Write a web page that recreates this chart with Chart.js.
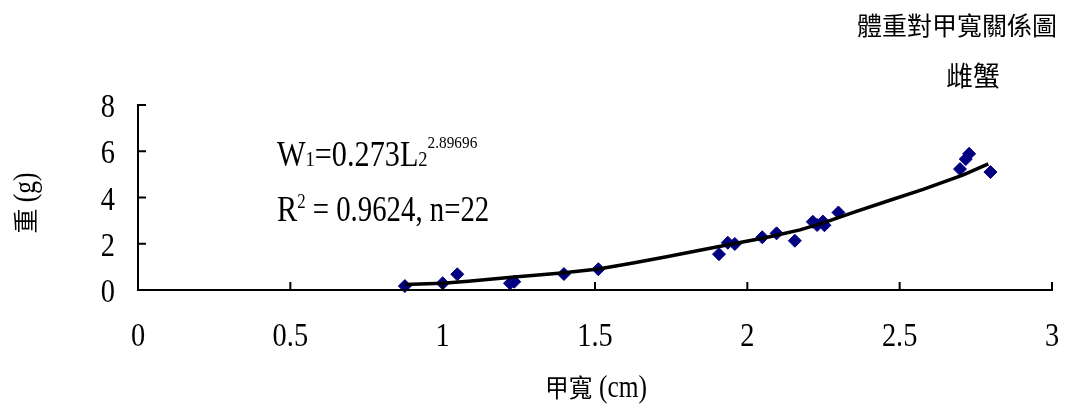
<!DOCTYPE html>
<html>
<head>
<meta charset="utf-8">
<title>體重對甲寬關係圖</title>
<script src="https://cdn.jsdelivr.net/npm/chart.js@4.4.1/dist/chart.umd.min.js"></script>
<style>
  html, body { margin: 0; padding: 0; background: #ffffff; }
  canvas { display: block; }
</style>
</head>
<body>
<canvas id="chart" width="1077" height="410"></canvas>
<script>
// Carapace width (cm) and body weight (g) of the female crabs measured
const widthCm  = [0.876, 1.000, 1.048, 1.221, 1.235, 1.398, 1.511,
                  1.907, 1.936, 1.959, 2.049, 2.096, 2.156, 2.215, 2.229, 2.248, 2.253, 2.299,
                  2.698, 2.717, 2.728, 2.798];
const weightG  = [0.17, 0.29, 0.68, 0.29, 0.36, 0.69, 0.90,
                  1.55, 2.04, 1.99, 2.28, 2.45, 2.13, 2.95, 2.81, 2.96, 2.80, 3.35,
                  5.23, 5.66, 5.89, 5.10];

// Power trend line W = 0.273 L^2.89696, as plotted
const fitWidth  = [0.876, 1.000, 1.084, 1.226, 1.390, 1.511, 1.625, 1.735, 1.844,
                   1.954, 2.063, 2.173, 2.249, 2.358, 2.468, 2.577, 2.709, 2.791];
const fitWeight = [0.24, 0.29, 0.38, 0.55, 0.74, 0.91, 1.17, 1.44, 1.72,
                   2.00, 2.27, 2.60, 2.90, 3.40, 3.88, 4.35, 4.98, 5.45];

// Axis ticks and their labels
const xTicks = [0, 0.5, 1, 1.5, 2, 2.5, 3];
const xTickLabels = ['0', '0.5', '1', '1.5', '2', '2.5', '3'];
const yTicks = [0, 2, 4, 6, 8];
const yTickLabels = ['0', '2', '4', '6', '8'];

const chartTitle = '體重對甲寬關係圖';
const chartSubtitle = '雌蟹';
const xTitle = ['甲寬', ' (cm)'];
const yTitle = ['重', ' (g)'];
const equation = { coef: '0.273', exponent: '2.89696', r2: '0.9624', n: '22' };

const SERIF = '"Liberation Serif", "Times New Roman", serif';
const CJK = '"Noto Sans CJK TC", "Noto Sans CJK SC", sans-serif';

function fontOf(r) { return r.size + 'px ' + (r.cjk ? CJK : SERIF); }

function runsWidth(ctx, runs) {
  let w = 0;
  for (const r of runs) { ctx.font = fontOf(r); w += ctx.measureText(r.text).width * (r.sx || 1); }
  return w;
}

// Draw a line of mixed-font text pieces on a common baseline;
// sx narrows a piece horizontally (condensed serif look)
function drawRuns(ctx, runs, x, y, align) {
  const w = runsWidth(ctx, runs);
  let cx = align === 'center' ? x - w / 2 : align === 'right' ? x - w : x;
  ctx.textAlign = 'left';
  ctx.textBaseline = 'alphabetic';
  for (const r of runs) {
    const sx = r.sx || 1;
    ctx.font = fontOf(r);
    ctx.save();
    ctx.translate(cx, y + (r.dy || 0));
    ctx.scale(sx, 1);
    ctx.fillText(r.text, 0, 0);
    ctx.restore();
    cx += ctx.measureText(r.text).width * sx;
  }
}

const axesAndText = {
  id: 'axesAndText',
  afterDatasetsDraw(chart) {
    const ctx = chart.ctx;
    const xs = chart.scales.x, ys = chart.scales.y;
    const x0 = xs.getPixelForValue(0), x1 = xs.getPixelForValue(3);
    const y0 = ys.getPixelForValue(0), y1 = ys.getPixelForValue(8);
    ctx.save();
    ctx.strokeStyle = '#000';
    ctx.fillStyle = '#000';
    ctx.lineWidth = 2;
    ctx.lineCap = 'butt';
    // axis lines
    ctx.beginPath();
    ctx.moveTo(x0, y1 - 1); ctx.lineTo(x0, y0 + 1);
    ctx.moveTo(x0 - 1, y0); ctx.lineTo(x1 + 1, y0);
    ctx.stroke();
    // inward tick marks
    ctx.beginPath();
    for (const v of yTicks) { const p = ys.getPixelForValue(v); ctx.moveTo(x0, p); ctx.lineTo(x0 + 8, p); }
    for (const v of xTicks) { const p = xs.getPixelForValue(v); ctx.moveTo(p, y0); ctx.lineTo(p, y0 - 8); }
    ctx.stroke();

    // tick labels
    yTicks.forEach((v, i) => {
      drawRuns(ctx, [{ text: yTickLabels[i], size: 33, sx: 0.86 }], x0 - 23, ys.getPixelForValue(v) + 12, 'right');
    });
    xTicks.forEach((v, i) => {
      drawRuns(ctx, [{ text: xTickLabels[i], size: 33, sx: 0.86 }], xs.getPixelForValue(v), 346, 'center');
    });

    // axis titles
    drawRuns(ctx, [{ text: xTitle[0], size: 25, cjk: true, sx: 0.95 }, { text: xTitle[1], size: 31, sx: 0.82 }], 596, 397, 'center');
    ctx.save();
    ctx.translate(35, 203);
    ctx.rotate(-Math.PI / 2);
    drawRuns(ctx, [{ text: yTitle[0], size: 25, cjk: true }, { text: yTitle[1], size: 31, sx: 0.82 }], 0, 0, 'center');
    ctx.restore();

    // chart title
    drawRuns(ctx, [{ text: chartTitle, size: 25, cjk: true }], 957, 35, 'center');
    drawRuns(ctx, [{ text: chartSubtitle, size: 27, cjk: true }], 973, 86, 'center');

    // regression equation
    drawRuns(ctx, [
      { text: 'W', size: 36, sx: 0.84 },
      { text: '1', size: 22, sx: 0.84 },
      { text: '=' + equation.coef + 'L', size: 36, sx: 0.84 },
      { text: '2', size: 22, sx: 0.84 },
      { text: equation.exponent, size: 17, sx: 0.9, dy: -18 }
    ], 277, 166, 'left');
    drawRuns(ctx, [
      { text: 'R', size: 36, sx: 0.84 },
      { text: '2', size: 20, sx: 0.84, dy: -13 },
      { text: ' = ' + equation.r2 + ', n=' + equation.n, size: 36, sx: 0.8 }
    ], 277, 221, 'left');
    ctx.restore();
  }
};

new Chart(document.getElementById('chart'), {
  type: 'scatter',
  data: {
    datasets: [
      {
        label: '趨勢線',
        data: fitWidth.map((x, i) => ({ x, y: fitWeight[i] })),
        showLine: true,
        borderColor: '#000000',
        borderWidth: 3.5,
        pointRadius: 0,
        tension: 0,
        fill: false,
        order: 0
      },
      {
        label: '雌蟹',
        data: widthCm.map((x, i) => ({ x, y: weightG[i] })),
        pointStyle: 'rectRot',
        pointRadius: 6.5,
        pointBackgroundColor: '#000080',
        pointBorderColor: '#000080',
        pointBorderWidth: 1,
        clip: false,
        order: 1
      }
    ]
  },
  options: {
    responsive: false,
    animation: false,
    devicePixelRatio: 1,
    layout: { padding: { left: 138, right: 25, top: 105, bottom: 120 } },
    plugins: { legend: { display: false }, tooltip: { enabled: false }, title: { display: false } },
    scales: {
      x: { type: 'linear', min: 0, max: 3, display: false },
      y: { type: 'linear', min: 0, max: 8, display: false }
    }
  },
  plugins: [axesAndText]
});
</script>
</body>
</html>
